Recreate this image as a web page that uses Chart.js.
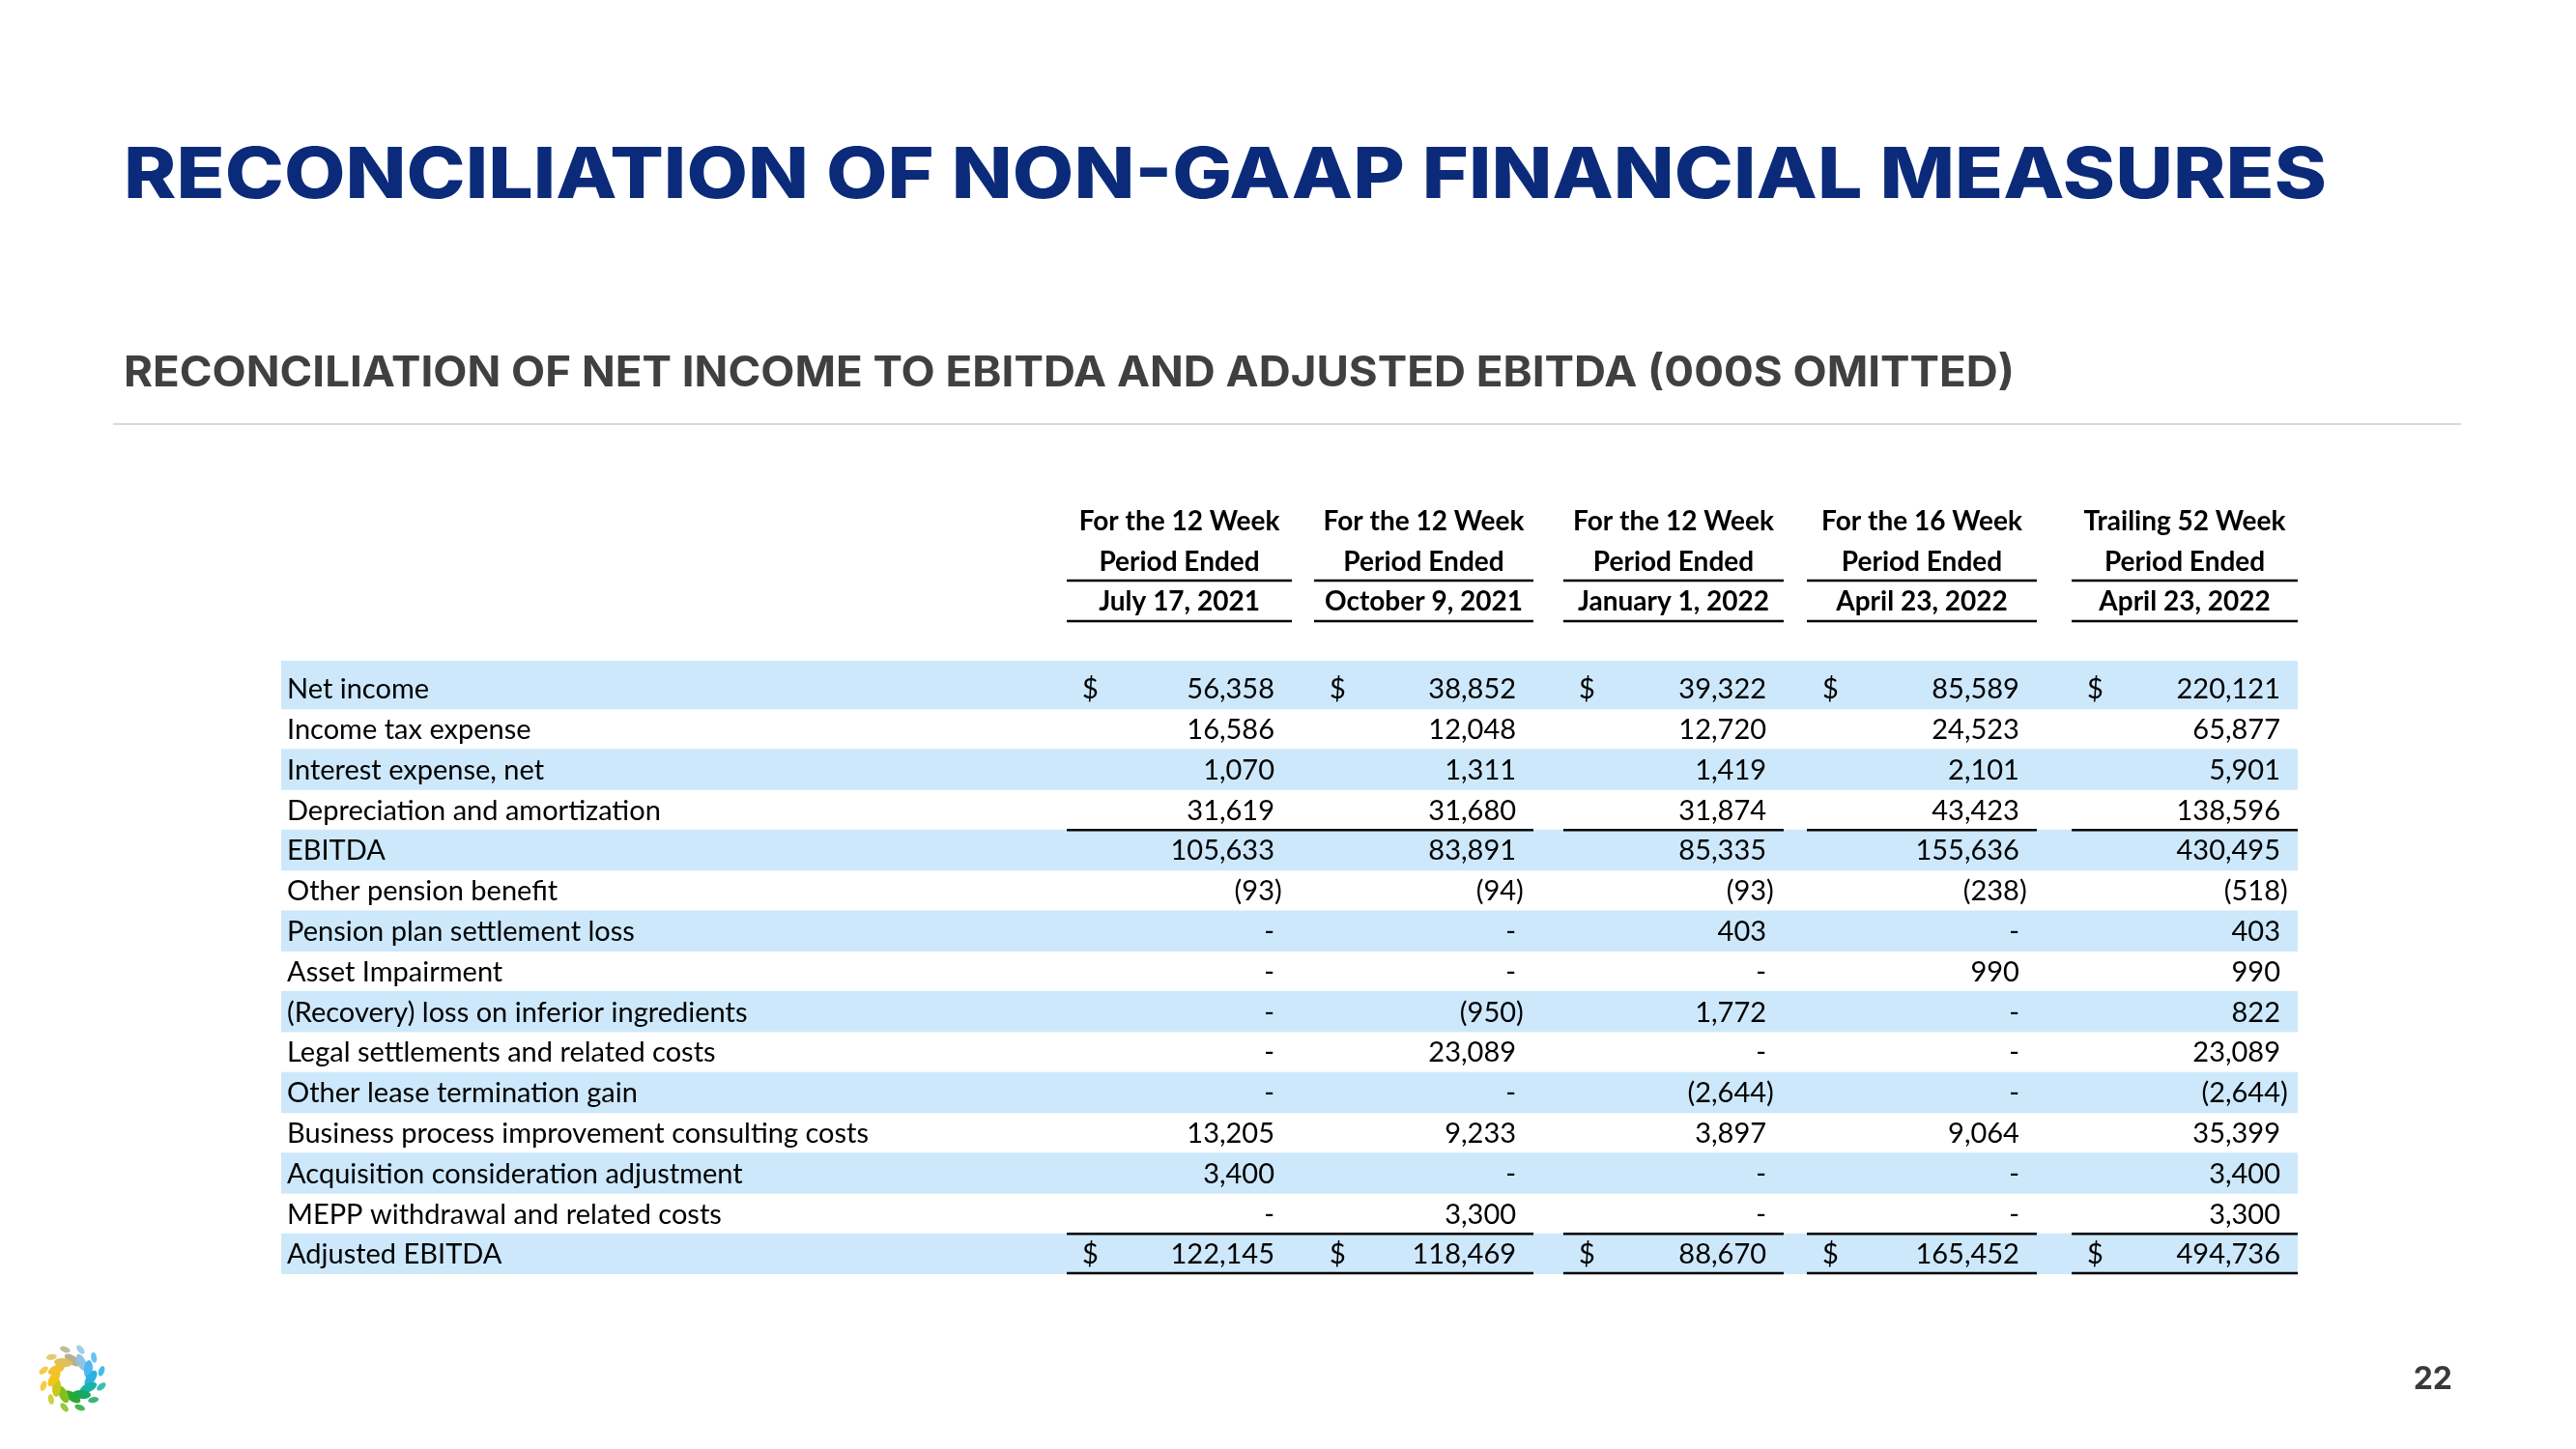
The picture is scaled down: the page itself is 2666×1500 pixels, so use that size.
<!DOCTYPE html>
<html>
<head>
<meta charset="utf-8">
<script src="https://cdn.jsdelivr.net/npm/chart.js@4.4.0/dist/chart.umd.min.js"></script>
<style>
html, body { margin: 0; padding: 0; background: #fff; }
#wrap { width: 2666px; height: 1500px; position: relative; }
</style>
</head>
<body>
<div id="wrap"><canvas id="tbl"></canvas></div>
<script>
// ---- data ----
var rowLabels = [
  "Net income",
  "Income tax expense",
  "Interest expense, net",
  "Depreciation and amortization",
  "EBITDA",
  "Other pension benefit",
  "Pension plan settlement loss",
  "Asset Impairment",
  "(Recovery) loss on inferior ingredients",
  "Legal settlements and related costs",
  "Other lease termination gain",
  "Business process improvement consulting costs",
  "Acquisition consideration adjustment",
  "MEPP withdrawal and related costs",
  "Adjusted EBITDA"
];
var headLine1 = ["For the 12 Week", "For the 12 Week", "For the 12 Week", "For the 16 Week", "Trailing 52 Week"];
var headLine2 = ["Period Ended", "Period Ended", "Period Ended", "Period Ended", "Period Ended"];
var headLine3 = ["July 17, 2021", "October 9, 2021", "January 1, 2022", "April 23, 2022", "April 23, 2022"];

// null = "-"
var jul2021 = [56358, 16586, 1070, 31619, 105633, -93, null, null, null, null, null, 13205, 3400, null, 122145];
var oct2021 = [38852, 12048, 1311, 31680, 83891, -94, null, null, -950, 23089, null, 9233, null, 3300, 118469];
var jan2022 = [39322, 12720, 1419, 31874, 85335, -93, 403, null, 1772, null, -2644, 3897, null, null, 88670];
var apr2022 = [85589, 24523, 2101, 43423, 155636, -238, null, 990, null, null, null, 9064, null, null, 165452];
var ttm2022 = [220121, 65877, 5901, 138596, 430495, -518, 403, 990, 822, 23089, -2644, 35399, 3400, 3300, 494736];
var periods = [jul2021, oct2021, jan2022, apr2022, ttm2022];
var dollarRows = [0, 14];
var totalRows = [4, 14];

var pageTitle = "RECONCILIATION OF NON-GAAP FINANCIAL MEASURES";
var pageSubtitle = "RECONCILIATION OF NET INCOME TO EBITDA AND ADJUSTED EBITDA (000S OMITTED)";
var pageNumber = "22";

// ---- layout (x scale runs 0..100 across the table) ----
var colEdges = [[38.96, 50.12], [51.22, 62.10], [63.58, 74.51], [75.66, 87.06], [88.79, 100]];
var sumSpans = [[38.96, 62.10], [63.58, 74.51], [75.66, 87.06], [88.79, 100]];
var bandColor = "#cde8fb";
var cellFont = "29px Lato";
var headFont = "bold 28px Lato";

function fmt(v) {
  if (v === null) return "-";
  var s = Math.abs(v).toLocaleString("en-US");
  return v < 0 ? "(" + s + ")" : s;
}

var tablePlugin = {
  id: "tablePlugin",
  beforeDatasetsDraw: function (chart) {
    // first band reaches a bit higher than the others
    var ctx = chart.ctx, a = chart.chartArea;
    ctx.save();
    ctx.fillStyle = bandColor;
    ctx.fillRect(a.left, a.top - 8, a.right - a.left, 9);
    ctx.restore();
  },
  afterDatasetsDraw: function (chart) {
    var ctx = chart.ctx, xs = chart.scales.x, ys = chart.scales.y, a = chart.chartArea;
    ctx.save();
    ctx.fillStyle = "#000";
    ctx.strokeStyle = "#000";

    // column headers
    ctx.font = headFont;
    ctx.textAlign = "center";
    ctx.textBaseline = "middle";
    colEdges.forEach(function (e, c) {
      var x0 = xs.getPixelForValue(e[0]), x1 = xs.getPixelForValue(e[1]);
      var cx = (x0 + x1) / 2;
      ctx.fillText(headLine1[c], cx, a.top - 152);
      ctx.fillText(headLine2[c], cx, a.top - 110);
      ctx.fillText(headLine3[c], cx, a.top - 69);
      ctx.lineWidth = 2.5;
      ctx.beginPath();
      ctx.moveTo(x0, a.top - 91); ctx.lineTo(x1, a.top - 91);
      ctx.moveTo(x0, a.top - 49); ctx.lineTo(x1, a.top - 49);
      ctx.stroke();
    });

    // row labels
    ctx.font = cellFont;
    ctx.textAlign = "left";
    rowLabels.forEach(function (lab, r) {
      ctx.fillText(lab, a.left + 6, ys.getPixelForValue(r) + 1);
    });

    // values
    var parenW = ctx.measureText(")").width;
    periods.forEach(function (vals, c) {
      var x0 = xs.getPixelForValue(colEdges[c][0]);
      var xr = xs.getPixelForValue(colEdges[c][1]) - 18;
      vals.forEach(function (v, r) {
        var y = ys.getPixelForValue(r) + 1;
        if (dollarRows.indexOf(r) >= 0) {
          ctx.textAlign = "left";
          ctx.fillText("$", x0 + 16, y);
        }
        ctx.textAlign = "right";
        if (v !== null && v < 0) ctx.fillText(fmt(v), xr + parenW, y);
        else ctx.fillText(fmt(v), xr, y);
      });
    });

    // sum lines above total rows and below the last one
    ctx.lineWidth = 2.5;
    totalRows.forEach(function (r) {
      var yTop = (ys.getPixelForValue(r - 1) + ys.getPixelForValue(r)) / 2;
      sumSpans.forEach(function (s) {
        ctx.beginPath();
        ctx.moveTo(xs.getPixelForValue(s[0]), yTop);
        ctx.lineTo(xs.getPixelForValue(s[1]), yTop);
        ctx.stroke();
      });
    });
    var yEnd = a.bottom - 1;
    sumSpans.forEach(function (s) {
      ctx.beginPath();
      ctx.moveTo(xs.getPixelForValue(s[0]), yEnd);
      ctx.lineTo(xs.getPixelForValue(s[1]), yEnd);
      ctx.stroke();
    });
    ctx.restore();
  }
};

function fitText(ctx, text, x, y, width) {
  var w = ctx.measureText(text).width;
  ctx.save();
  ctx.translate(x, y);
  ctx.scale(width / w, 1);
  ctx.fillText(text, 0, 0);
  ctx.restore();
}

var slidePlugin = {
  id: "slidePlugin",
  afterDraw: function (chart) {
    var ctx = chart.ctx;
    ctx.save();
    ctx.textAlign = "left";
    ctx.textBaseline = "alphabetic";
    ctx.fillStyle = "#0b2b7a";
    ctx.font = "800 73px Inter";
    fitText(ctx, pageTitle, 128, 205, 2280);
    ctx.fillStyle = "#404040";
    ctx.font = "700 44px Inter";
    fitText(ctx, pageSubtitle, 128, 400, 1957);

    ctx.strokeStyle = "#d9d9d9";
    ctx.lineWidth = 2;
    ctx.beginPath();
    ctx.moveTo(117, 439); ctx.lineTo(2547, 439);
    ctx.stroke();

    ctx.fillStyle = "#3a3a3a";
    ctx.font = "700 32px Inter";
    ctx.textAlign = "right";
    ctx.fillText(pageNumber, 2538, 1438);

    // leaf logo
    var leafColors = ["#b4b091", "#93c3e3", "#4fb6ef", "#27b2e0", "#19b3a6", "#17a864",
                      "#2aa833", "#86bf1c", "#c9c91d", "#f4c41b", "#f2c22d", "#e2bf5a"];
    var cx = 75, cy = 1427;
    for (var i = 0; i < 12; i++) {
      var ang = -Math.PI / 2 + i * Math.PI / 6;
      ctx.fillStyle = leafColors[i];
      ctx.beginPath();
      ctx.ellipse(cx + Math.cos(ang) * 19, cy + Math.sin(ang) * 19, 9.5, 4.5, ang + Math.PI / 2 + 0.6, 0, Math.PI * 2);
      ctx.fill();
      var ang2 = ang - 0.25;
      ctx.globalAlpha = 0.85;
      ctx.beginPath();
      ctx.ellipse(cx + Math.cos(ang2) * 31, cy + Math.sin(ang2) * 31, 5.5, 3, ang2 + Math.PI / 2 + 0.6, 0, Math.PI * 2);
      ctx.fill();
      ctx.globalAlpha = 1;
    }
    ctx.restore();
  }
};

new Chart(document.getElementById("tbl"), {
  type: "bar",
  data: {
    labels: rowLabels,
    datasets: [{
      data: rowLabels.map(function (l, i) { return i % 2 === 0 ? [0, 100] : null; }),
      backgroundColor: bandColor,
      borderWidth: 0,
      barPercentage: 1,
      categoryPercentage: 1
    }]
  },
  options: {
    indexAxis: "y",
    responsive: true,
    maintainAspectRatio: false,
    animation: false,
    devicePixelRatio: 1,
    layout: { padding: { left: 291, right: 288, top: 692, bottom: 181 } },
    plugins: { legend: { display: false }, tooltip: { enabled: false }, title: { display: false } },
    scales: {
      x: { type: "linear", min: 0, max: 100, display: false },
      y: { type: "category", display: false }
    }
  },
  plugins: [tablePlugin, slidePlugin]
});
</script>
</body>
</html>
